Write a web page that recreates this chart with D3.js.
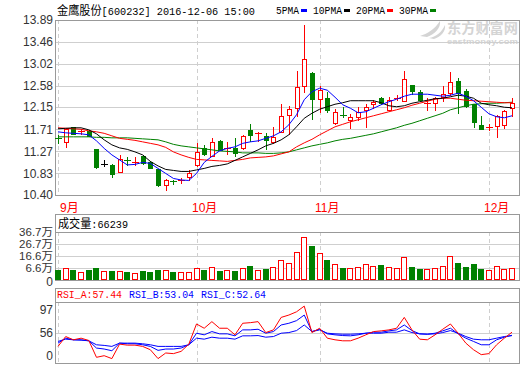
<!DOCTYPE html>
<html>
<head>
<meta charset="utf-8">
<script src="https://cdn.jsdelivr.net/npm/d3@7"></script>
<style>
body { margin: 0; background: #fff; }
svg { display: block; }
</style>
</head>
<body>
<svg id="chart" width="520" height="365"></svg>
<script>
// 金鹰股份 600232 daily K line, 2016-09 .. 2016-12-06

var months = ["9月", "10月", "11月", "12月"];
var monthStart = [0, 18, 34, 56];   // candle index of first day shown in each month

var open = [11.53,11.45,11.75,11.65,11.68,11.31,11.02,11.00,10.85,11.09,
  11.04,11.18,11.06,10.91,10.60,10.68,10.69,10.75,11.00,11.33,
  11.18,11.48,11.32,11.33,11.33,11.70,11.62,11.58,11.46,11.65,
  12.00,12.13,12.57,12.84,12.31,12.33,11.83,11.99,11.90,11.96,
  12.10,12.21,12.33,12.10,12.32,12.28,12.59,12.46,12.21,12.24,
  12.35,12.43,12.67,12.47,12.21,11.80,11.74,11.78,11.80,12.13];
var high = [11.60,11.72,11.76,11.71,11.69,11.32,11.10,11.01,11.20,11.16,
  11.16,11.19,11.07,10.92,10.72,10.69,10.73,10.90,11.43,11.40,
  11.54,11.49,11.45,11.54,11.60,11.82,11.65,11.63,11.76,12.22,
  12.18,12.87,13.79,12.85,12.57,12.46,12.11,12.16,12.02,12.16,
  12.22,12.30,12.35,12.35,12.39,12.87,12.60,12.49,12.33,12.35,
  12.57,12.86,12.73,12.51,12.22,11.97,11.81,12.00,12.09,12.33];
var low = [11.43,11.36,11.61,11.62,11.57,10.94,10.97,10.75,10.85,11.00,
  11.00,11.02,10.93,10.58,10.49,10.61,10.63,10.70,10.97,11.20,
  11.17,11.29,11.22,11.18,11.32,11.48,11.48,11.31,11.44,11.65,
  11.62,11.98,12.46,11.91,12.05,12.05,11.81,11.96,11.73,11.89,
  11.76,12.13,12.21,12.10,12.30,12.27,12.42,12.29,12.10,12.10,
  12.27,12.40,12.03,12.16,11.76,11.71,11.70,11.56,11.74,11.98];
var close = [11.51,11.71,11.62,11.67,11.58,10.96,11.02,10.81,11.12,11.07,
  11.06,11.03,10.94,10.60,10.70,10.67,10.70,10.83,11.26,11.21,
  11.46,11.30,11.34,11.23,11.58,11.60,11.64,11.50,11.56,11.97,
  12.11,12.56,13.11,12.31,12.49,12.10,12.05,11.97,11.96,12.06,
  12.16,12.26,12.23,12.30,12.34,12.71,12.48,12.30,12.23,12.33,
  12.41,12.65,12.44,12.18,11.86,11.72,11.76,11.98,12.08,12.23];

// volume, 万
var volume = [5.5,6.6,5.2,3.3,5.2,6.8,4.4,4.4,4.4,3.5,
  2.7,4.4,3.8,5.2,4.9,3.5,3.5,3.5,7.1,5.2,
  7.4,4.4,4.9,4.4,7.1,8.2,5.2,6.0,7.4,13.2,
  11.0,19.8,32.3,25.1,19.0,13.5,9.9,6.8,6.6,7.4,
  9.9,8.2,9.3,7.4,6.6,15.7,7.7,6.0,5.8,6.6,
  8.2,16.5,11.0,7.7,10.2,6.0,5.2,8.2,5.8,6.6239];

var ma5 = [11.66,11.64,11.63,11.62,11.60,11.48,11.33,11.20,11.10,11.00,
  11.01,11.05,11.03,10.93,10.83,10.73,10.70,10.69,10.83,11.05,
  11.17,11.28,11.33,11.36,11.43,11.46,11.48,11.53,11.58,11.66,
  11.80,12.00,12.30,12.46,12.53,12.49,12.35,12.20,12.13,12.04,
  12.06,12.13,12.20,12.26,12.31,12.37,12.41,12.41,12.41,12.39,
  12.37,12.39,12.43,12.37,12.28,12.15,12.02,11.96,11.94,11.98];
var ma10 = [11.72,11.73,11.74,11.74,11.70,11.62,11.50,11.40,11.34,11.31,
  11.26,11.20,11.07,10.98,10.91,10.89,10.87,10.87,10.90,10.93,
  10.97,10.99,11.02,11.09,11.16,11.23,11.30,11.38,11.43,11.50,
  11.60,11.76,11.93,12.03,12.11,12.16,12.21,12.24,12.28,12.28,
  12.28,12.28,12.24,12.18,12.16,12.18,12.23,12.26,12.29,12.32,
  12.33,12.36,12.39,12.37,12.33,12.23,12.20,12.18,12.15,12.14];
var ma20 = [11.74,11.73,11.72,11.71,11.68,11.66,11.63,11.58,11.53,11.51,
  11.49,11.46,11.43,11.40,11.35,11.26,11.20,11.15,11.11,11.10,
  11.09,11.08,11.07,11.09,11.11,11.14,11.15,11.16,11.18,11.22,
  11.26,11.36,11.44,11.51,11.60,11.68,11.76,11.81,11.86,11.90,
  11.94,11.98,12.02,12.06,12.10,12.14,12.19,12.23,12.27,12.31,
  12.33,12.33,12.31,12.29,12.28,12.27,12.26,12.25,12.24,12.24];
var ma30 = [11.56,11.56,11.56,11.56,11.56,11.55,11.55,11.54,11.54,11.54,
  11.53,11.52,11.51,11.50,11.46,11.41,11.38,11.36,11.34,11.32,
  11.30,11.28,11.27,11.26,11.24,11.24,11.24,11.23,11.23,11.24,
  11.26,11.30,11.34,11.38,11.41,11.44,11.48,11.51,11.53,11.56,
  11.59,11.62,11.66,11.70,11.74,11.79,11.83,11.88,11.93,11.98,
  12.03,12.10,12.14,12.18,12.21,12.22,12.23,12.23,12.24,12.25];

var rsiA = [37.4,51.3,46.7,49.0,45.8,22.0,24.3,20.2,40.6,39.2,
  39.2,37.4,32.7,20.2,28.1,27.2,30.4,40.6,69.0,63.0,
  72.3,63.0,63.0,53.7,70.0,70.9,72.3,56.9,60.7,78.3,
  81.6,86.2,94.2,56.9,63.0,49.0,46.7,45.3,45.3,49.0,
  53.7,58.3,59.3,60.7,63.0,78.3,60.7,47.6,46.7,53.7,
  61.6,69.0,56.0,42.0,32.7,25.8,27.2,39.7,49.0,57.44];
var rsiB = [42.0,49.0,46.7,46.7,45.3,35.1,33.7,31.3,42.0,41.1,
  41.1,39.7,37.4,31.8,33.7,33.7,35.1,39.7,56.0,53.7,
  58.3,55.1,55.1,52.3,60.7,60.7,61.6,56.0,58.3,67.6,
  70.0,73.7,81.6,58.3,61.6,55.1,53.7,52.7,52.3,53.7,
  56.0,57.4,57.4,59.3,60.7,67.6,59.7,55.1,54.6,56.0,
  59.3,63.0,55.1,49.0,44.4,39.7,39.7,46.7,50.4,53.04];
var rsiC = [44.4,47.6,46.7,46.2,45.3,39.7,38.8,37.4,42.0,42.0,
  42.0,41.1,39.7,37.4,37.4,37.4,37.4,39.7,49.0,47.6,
  50.4,49.0,49.0,47.6,52.3,52.3,52.7,50.4,51.3,56.0,
  56.9,59.7,67.6,58.3,60.7,56.0,55.1,54.6,54.6,55.1,
  56.0,56.0,56.0,57.4,57.4,60.7,56.9,55.1,54.6,55.1,
  56.9,59.7,56.0,51.3,47.6,46.7,46.7,49.0,51.3,52.64];

var priceTicks = [13.89, 13.46, 13.02, 12.58, 12.15, 11.71, 11.27, 10.83, 10.40];
var volTicks = [36.7, 26.7, 16.6, 6.6];
var rsiTicks = [97, 56];

var maNames = ["5PMA", "10PMA", "20PMA", "30PMA"];
var maColors = ["#0000ff", "#000000", "#ff0000", "#008000"];

var UP = "#ff0000", DOWN = "#008000", FLAT = "#000000";
var BORDER = "#999", GRID = "#cfcfcf", LABEL = "#333";
var monoFont = '"Liberation Mono","Noto Sans CJK SC",monospace';
var cjkFont = '"Noto Sans CJK SC",sans-serif';
var sansFont = '"Liberation Sans","Noto Sans CJK SC",sans-serif';

var svg = d3.select("#chart");
var n = close.length;

var left = 55, right = 519;
var x = d3.scalePoint().domain(d3.range(n)).range([58, 512]);
function px(i) { return Math.round(x(i)); }

// panels
var price = {top: 20, bottom: 195};
var vol = {top: 214, head: 232, bottom: 280};
var rsi = {top: 288, head: 302, bottom: 363};

var yP = d3.scaleLinear().domain([10.40, 13.89]).range([price.bottom, price.top]);
var yV = d3.scaleLinear().domain([-3.1, 36.7]).range([vol.bottom, vol.head]);
var yR = d3.scaleLinear().domain([14, 100]).range([rsi.bottom, rsi.head]);

// watermark
var wm = svg.append("g").attr("fill", "#d4d4d4");
wm.append("path")
  .attr("d", "M420,36 C427,34 435,29 440,21 C441,28 435,34 427,37 Z M429,38 C436,37 442,32 445,25 C446,31 441,37 434,39 Z");
wm.append("text").attr("x", 447).attr("y", 33)
  .style("font-family", cjkFont).style("font-size", "14px").style("font-weight", "bold")
  .attr("textLength", 71).attr("lengthAdjust", "spacingAndGlyphs")
  .text("东方财富网");
wm.append("text").attr("x", 447).attr("y", 44)
  .style("font-family", sansFont).style("font-size", "8px").style("font-weight", "bold")
  .attr("textLength", 71).attr("lengthAdjust", "spacingAndGlyphs")
  .text("eastmoney.com");

// grid lines
var grid = svg.append("g").attr("stroke", GRID).attr("shape-rendering", "crispEdges");
grid.selectAll(".pg").data(priceTicks.slice(1, -1)).join("line")
  .attr("x1", left).attr("x2", right)
  .attr("y1", function(d) { return Math.round(yP(d)) + 0.5; })
  .attr("y2", function(d) { return Math.round(yP(d)) + 0.5; });
grid.selectAll(".vg").data(volTicks.slice(1)).join("line")
  .attr("x1", left).attr("x2", right)
  .attr("y1", function(d) { return Math.round(yV(d)) + 0.5; })
  .attr("y2", function(d) { return Math.round(yV(d)) + 0.5; });
grid.append("line")
  .attr("x1", left).attr("x2", right)
  .attr("y1", Math.round(yR(rsiTicks[1])) + 0.5).attr("y2", Math.round(yR(rsiTicks[1])) + 0.5);

// month dashed lines
[[price.top, price.bottom], [vol.head, vol.bottom], [rsi.head, rsi.bottom]].forEach(function(r) {
  grid.append("g").selectAll("line").data(monthStart).join("line")
    .attr("x1", function(d) { return px(d) + 0.5; })
    .attr("x2", function(d) { return px(d) + 0.5; })
    .attr("y1", r[0]).attr("y2", r[1])
    .attr("stroke-dasharray", "4,3");
});

// panel borders
var frame = svg.append("g").attr("fill", "none").attr("stroke", BORDER).attr("shape-rendering", "crispEdges");
frame.append("rect").attr("x", left + 0.5).attr("y", price.top + 0.5)
  .attr("width", right - left).attr("height", price.bottom - price.top);
frame.append("rect").attr("x", left + 0.5).attr("y", vol.top + 0.5)
  .attr("width", right - left).attr("height", vol.bottom - vol.top);
frame.append("line").attr("x1", left).attr("x2", right + 1).attr("y1", vol.head + 0.5).attr("y2", vol.head + 0.5);
frame.append("rect").attr("x", left + 0.5).attr("y", rsi.top + 0.5)
  .attr("width", right - left).attr("height", rsi.bottom - rsi.top);
frame.append("line").attr("x1", left).attr("x2", right + 1).attr("y1", rsi.head + 0.5).attr("y2", rsi.head + 0.5);

// candles
var kg = svg.append("g").attr("shape-rendering", "crispEdges");
kg.selectAll("g").data(d3.range(n)).join("g").each(function(i) {
  var el = d3.select(this);
  var c = px(i);
  var o = open[i], cl = close[i];
  var col = cl > o ? UP : (cl < o ? DOWN : FLAT);
  var yT = Math.round(yP(Math.max(o, cl))), yB = Math.round(yP(Math.min(o, cl)));
  var yH = Math.round(yP(high[i])), yL = Math.round(yP(low[i]));
  if (yB - yT < 2) {
    el.append("line").attr("x1", c + 0.5).attr("x2", c + 0.5).attr("y1", yH).attr("y2", yL + 1).attr("stroke", col);
    el.append("line").attr("x1", c - 3).attr("x2", c + 4).attr("y1", yT + 0.5).attr("y2", yT + 0.5).attr("stroke", col);
  } else if (cl > o) {
    el.append("line").attr("x1", c + 0.5).attr("x2", c + 0.5).attr("y1", yH).attr("y2", yT).attr("stroke", col);
    el.append("line").attr("x1", c + 0.5).attr("x2", c + 0.5).attr("y1", yB).attr("y2", yL + 1).attr("stroke", col);
    el.append("rect").attr("x", c - 1.5).attr("y", yT + 0.5).attr("width", 4).attr("height", yB - yT)
      .attr("fill", "#fff").attr("stroke", col);
  } else {
    el.append("line").attr("x1", c + 0.5).attr("x2", c + 0.5).attr("y1", yH).attr("y2", yL + 1).attr("stroke", col);
    el.append("rect").attr("x", c - 2).attr("y", yT).attr("width", 5).attr("height", yB - yT + 1).attr("fill", col);
  }
});

// moving averages
var mas = [ma30, ma20, ma10, ma5];
var maCols = [maColors[3], maColors[2], maColors[1], maColors[0]];
var line = d3.line().x(function(d, i) { return x(i); }).y(function(d) { return yP(d); });
svg.append("g").selectAll("path").data(mas).join("path")
  .attr("d", line)
  .attr("fill", "none")
  .attr("stroke-width", 1)
  .attr("stroke", function(d, k) { return maCols[k]; });

// volume bars
var vg = svg.append("g").attr("shape-rendering", "crispEdges");
vg.selectAll("rect").data(d3.range(n)).join("rect")
  .each(function(i) {
    var el = d3.select(this);
    var c = px(i);
    var yTop = Math.round(yV(volume[i]));
    if (close[i] >= open[i]) {
      el.attr("x", c - 2.5).attr("y", yTop + 0.5).attr("width", 5).attr("height", vol.bottom - yTop - 1)
        .attr("fill", "#fff").attr("stroke", UP);
    } else {
      el.attr("x", c - 3).attr("y", yTop).attr("width", 6).attr("height", vol.bottom - yTop)
        .attr("fill", DOWN);
    }
  });

// RSI lines
var rline = d3.line().x(function(d, i) { return x(i); }).y(function(d) { return yR(d); });
svg.append("g").selectAll("path").data([rsiC, rsiB, rsiA]).join("path")
  .attr("d", rline)
  .attr("fill", "none")
  .attr("stroke-width", 1)
  .attr("stroke", function(d, k) { return k === 2 ? "#ff0000" : "#0000ff"; });

// axis labels
var lab = svg.append("g").attr("fill", LABEL).attr("text-anchor", "end")
  .style("font-family", sansFont).style("font-size", "12px");
lab.selectAll(".pl").data(priceTicks).join("text")
  .attr("x", 53).attr("y", function(d) { return yP(d); }).attr("dy", "0.35em")
  .text(function(d) { return d.toFixed(2); });
lab.selectAll(".vl").data(volTicks).join("text")
  .attr("x", 53).attr("y", function(d) { return yV(d); }).attr("dy", "0.35em")
  .style("font-size", "11.5px")
  .text(function(d) { return d + "万"; });
lab.append("text").attr("x", 53).attr("y", vol.bottom + 1.5).attr("dy", "0.35em").text("0");
lab.append("text").attr("x", 53).attr("y", yR(rsiTicks[0]) + 1).attr("dy", "0.75em").text(rsiTicks[0]);
lab.append("text").attr("x", 53).attr("y", yR(rsiTicks[1])).attr("dy", "0.35em").text(rsiTicks[1]);
lab.append("text").attr("x", 53).attr("y", rsi.bottom - 3).text("0");

// month labels
svg.append("g").attr("fill", "#ff0000")
  .style("font-family", sansFont).style("font-size", "12px")
  .selectAll("text").data(months).join("text")
  .attr("x", function(d, k) { return Math.max(60, px(monthStart[k]) - 5); })
  .attr("y", 212)
  .text(function(d) { return d; });

// title + legend
var title = svg.append("text").attr("x", 57).attr("y", 15).attr("fill", "#000")
  .attr("textLength", 198).attr("lengthAdjust", "spacingAndGlyphs");
title.append("tspan").style("font-family", cjkFont).style("font-size", "12px").text("金鹰股份");
title.append("tspan").style("font-family", monoFont).style("font-size", "11px").text("[600232] 2016-12-06 15:00");

var lx = 276;
var leg = svg.append("g");
maNames.forEach(function(name, k) {
  var w = name.length * 6 - 1;
  leg.append("text").attr("x", lx).attr("y", 14)
    .style("font-family", monoFont).style("font-size", "10px").attr("fill", "#000")
    .attr("textLength", w).attr("lengthAdjust", "spacingAndGlyphs")
    .text(name);
  leg.append("rect").attr("x", lx + w + 2).attr("y", 9).attr("width", 6).attr("height", 3)
    .attr("fill", maColors[k]);
  lx = lx + w + 2 + 6 + 6;
});

// volume header
svg.append("text").attr("x", 58).attr("y", 228).attr("fill", "#000")
  .attr("textLength", 70).attr("lengthAdjust", "spacingAndGlyphs")
  .call(function(t) {
    t.append("tspan").style("font-family", cjkFont).style("font-size", "12px").text("成交量");
    t.append("tspan").style("font-family", monoFont).style("font-size", "11px")
      .text(":" + Math.round(volume[n - 1] * 10000));
  });

// RSI header
var rsiHead = [["RSI_A", rsiA, "#ff0000"], ["RSI_B", rsiB, "#0000ff"], ["RSI_C", rsiC, "#0000ff"]];
svg.append("g").selectAll("text").data(rsiHead).join("text")
  .attr("x", function(d, k) { return 57 + k * 72; })
  .attr("y", 298)
  .style("font-family", monoFont).style("font-size", "10.5px")
  .attr("fill", function(d) { return d[2]; })
  .attr("textLength", 65).attr("lengthAdjust", "spacingAndGlyphs")
  .text(function(d) { return d[0] + ":" + d[1][n - 1].toFixed(2); });
</script>
</body>
</html>
